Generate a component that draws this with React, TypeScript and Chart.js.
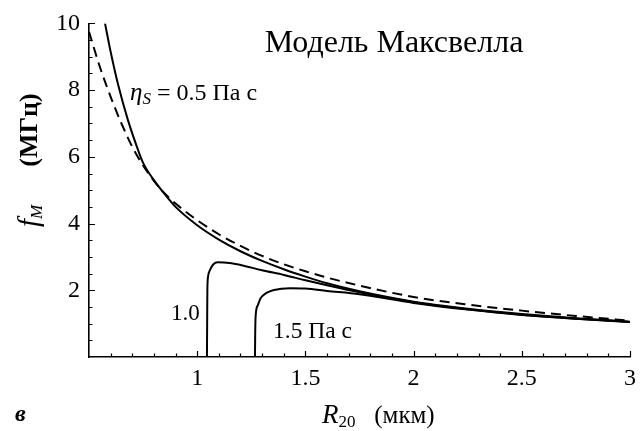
import React, { useEffect, useRef } from "react";
import { Chart, registerables } from "chart.js";

Chart.register(...registerables);

// Radius R20 (мкм) and Maxwell frequency f_M (МГц)
const radiusEta05 = [0.574, 0.6, 0.635, 0.68, 0.727, 0.75, 0.8, 0.85, 0.9, 1.0, 1.1, 1.2, 1.3, 1.4, 1.5, 1.6, 1.75, 2.0, 2.25, 2.5, 2.75, 3.0];
const freqEta05 = [10.0, 9.15, 8.15, 7.1, 6.2, 5.82, 5.3, 4.88, 4.5, 3.95, 3.52, 3.17, 2.88, 2.63, 2.41, 2.21, 1.97, 1.66, 1.45, 1.29, 1.16, 1.06];

const radiusEta10 = [1.045, 1.046, 1.047, 1.05, 1.06, 1.075, 1.094, 1.15, 1.2, 1.3, 1.4, 1.5, 1.6, 1.75, 2.0, 2.25, 2.5, 2.75, 3.0];
const freqEta10 = [0, 1.0, 2.0, 2.4, 2.62, 2.78, 2.84, 2.82, 2.76, 2.6, 2.46, 2.3, 2.15, 1.94, 1.64, 1.43, 1.27, 1.15, 1.05];

const radiusEta15 = [1.267, 1.268, 1.27, 1.28, 1.293, 1.32, 1.355, 1.43, 1.5, 1.6, 1.75, 2.0, 2.25, 2.5, 2.75, 3.0];
const freqEta15 = [0, 0.7, 1.22, 1.55, 1.76, 1.92, 2.01, 2.06, 2.05, 1.98, 1.88, 1.62, 1.42, 1.26, 1.15, 1.05];

const radiusLimit = [0.5, 0.55, 0.6, 0.65, 0.7, 0.75, 0.8, 0.85, 0.9, 1.0, 1.1, 1.2, 1.3, 1.4, 1.5, 1.6, 1.75, 2.0, 2.25, 2.5, 2.75, 3.0];
const freqLimit = [9.75, 8.7, 7.8, 7.0, 6.3, 5.74, 5.28, 4.9, 4.6, 4.1, 3.68, 3.33, 3.03, 2.78, 2.57, 2.38, 2.14, 1.8, 1.57, 1.39, 1.23, 1.09];

const xTickLabels = [1, 1.5, 2, 2.5, 3];
const yTickLabels = [2, 4, 6, 8, 10];

const SERIF = "'Liberation Serif', 'Times New Roman', serif";

const toPoints = (xs: number[], ys: number[]) => xs.map((x, i) => ({ x, y: ys[i] }));

type Piece = { text: string; font: string; dy?: number };

function drawPieces(ctx: CanvasRenderingContext2D, pieces: Piece[], x: number, y: number) {
  let cx = x;
  for (const p of pieces) {
    ctx.font = p.font;
    ctx.fillText(p.text, cx, y + (p.dy || 0));
    cx += ctx.measureText(p.text).width;
  }
}

const decorations = {
  id: "decorations",
  afterDraw(chart: any) {
    const { ctx, chartArea, scales } = chart;
    const xs = scales.x;
    const ys = scales.y;
    ctx.save();
    ctx.strokeStyle = "#000";
    ctx.lineWidth = 1.2;
    ctx.beginPath();
    // inward ticks on the left axis
    for (let v = 0.5; v <= 10.001; v += 0.5) {
      const py = Math.round(ys.getPixelForValue(v)) + 0.5;
      const major = Math.abs(v / 2 - Math.round(v / 2)) < 1e-6;
      ctx.moveTo(chartArea.left, py);
      ctx.lineTo(chartArea.left + (major ? 6 : 3.5), py);
    }
    // inward ticks on the bottom axis
    for (let i = 6; i <= 30; i++) {
      const v = i / 10;
      const px = Math.round(xs.getPixelForValue(v)) + 0.5;
      const major = i % 5 === 0;
      ctx.moveTo(px, chartArea.bottom);
      ctx.lineTo(px, chartArea.bottom - (major ? 6 : 3.5));
    }
    ctx.stroke();

    ctx.fillStyle = "#000";
    ctx.textBaseline = "alphabetic";
    ctx.textAlign = "left";

    // title
    ctx.font = `32px ${SERIF}`;
    ctx.textAlign = "center";
    ctx.fillText("Модель Максвелла", 394, 52);
    ctx.textAlign = "left";

    // curve labels
    drawPieces(ctx, [
      { text: "η", font: `italic 25px ${SERIF}` },
      { text: "S", font: `italic 17px ${SERIF}`, dy: 4 },
      { text: " = 0.5 Па с", font: `24px ${SERIF}` },
    ], 130, 100);
    drawPieces(ctx, [{ text: "1.0", font: `23px ${SERIF}` }], 171, 320);
    drawPieces(ctx, [{ text: "1.5 Па с", font: `23.5px ${SERIF}` }], 273, 338);

    // x-axis title
    drawPieces(ctx, [
      { text: "R", font: `italic 27px ${SERIF}` },
      { text: "20", font: `17px ${SERIF}`, dy: 4 },
      { text: "   (мкм)", font: `25px ${SERIF}` },
    ], 322, 423);

    // y-axis title
    ctx.save();
    ctx.translate(37, 0);
    ctx.rotate(-Math.PI / 2);
    ctx.font = `bold 26px ${SERIF}`;
    ctx.textAlign = "center";
    ctx.fillText("(МГц)", -130, 0);
    ctx.textAlign = "left";
    drawPieces(ctx, [
      { text: "f", font: `italic 29px ${SERIF}` },
      { text: "M", font: `italic 17px ${SERIF}`, dy: 4 },
    ], -227, 1);
    ctx.restore();

    // panel letter
    ctx.font = `italic bold 24px ${SERIF}`;
    ctx.fillText("в", 15, 421);
    ctx.restore();
  },
};

export default function App() {
  const canvasRef = useRef<HTMLCanvasElement | null>(null);

  useEffect(() => {
    const canvas = canvasRef.current;
    if (!canvas) return;
    const line = (data: { x: number; y: number }[], dashed = false) => ({
      data,
      borderColor: "#000",
      backgroundColor: "#000",
      borderWidth: 2,
      borderDash: dashed ? [10, 6] : [],
      pointRadius: 0,
      fill: false,
      cubicInterpolationMode: "monotone" as const,
    });
    const chart = new Chart(canvas, {
      type: "line",
      data: {
        datasets: [
          line(toPoints(radiusLimit, freqLimit), true),
          line(toPoints(radiusEta05, freqEta05)),
          line(toPoints(radiusEta10, freqEta10)),
          line(toPoints(radiusEta15, freqEta15)),
        ],
      },
      options: {
        animation: false,
        responsive: false,
        devicePixelRatio: 1,
        layout: { padding: { left: 0, top: 22, right: 10, bottom: 0 } },
        plugins: { legend: { display: false }, tooltip: { enabled: false }, title: { display: false } },
        scales: {
          x: {
            type: "linear",
            min: 0.5,
            max: 3,
            grid: { display: false, drawTicks: false },
            border: { display: true, color: "#000", width: 1.6 },
            afterBuildTicks: (scale: any) => {
              scale.ticks = xTickLabels.map((v) => ({ value: v }));
            },
            afterFit: (scale: any) => {
              scale.height = 74;
            },
            ticks: {
              color: "#000",
              padding: 7,
              maxRotation: 0,
              autoSkip: false,
              font: { family: SERIF, size: 24 },
              callback: (v: any) => String(v),
            },
          },
          y: {
            type: "linear",
            min: 0,
            max: 10,
            grid: { display: false, drawTicks: false },
            border: { display: true, color: "#000", width: 1.6 },
            afterBuildTicks: (scale: any) => {
              scale.ticks = yTickLabels.map((v) => ({ value: v }));
            },
            afterFit: (scale: any) => {
              scale.width = 89;
            },
            ticks: {
              color: "#000",
              padding: 9,
              autoSkip: false,
              font: { family: SERIF, size: 24 },
              callback: (v: any) => String(v),
            },
          },
        },
      },
      plugins: [decorations],
    });
    return () => chart.destroy();
  }, []);

  return (
    <div style={{ position: "absolute", left: 0, top: 0, width: 643, height: 431, background: "#fff" }}>
      <canvas ref={canvasRef} width={643} height={431} style={{ display: "block", width: 643, height: 431 }} />
    </div>
  );
}
